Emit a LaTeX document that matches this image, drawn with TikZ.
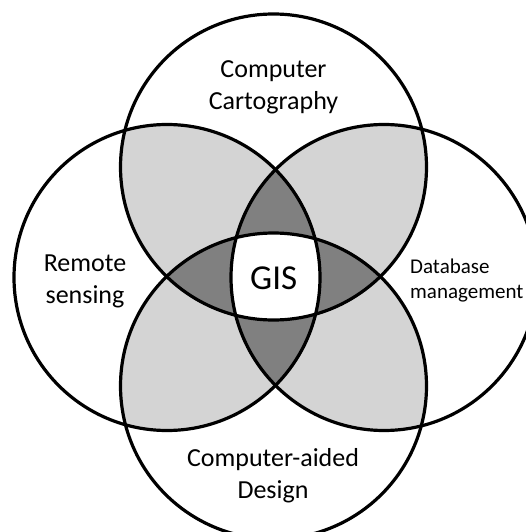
\documentclass[tikz,border=0pt]{standalone}
\usepackage{fontspec}
\setmainfont{Carlito}
\definecolor{pairgray}{RGB}{212,212,212}
\definecolor{triplegray}{RGB}{128,128,128}
\newcommand\ringradius{153pt}
\begin{document}
\begin{tikzpicture}[x=1pt,y=-1pt,
  ring/.style={draw=black, line width=3.2pt},
  areatext/.style={font=\fontsize{26}{32}\selectfont, align=center, inner sep=0pt},
  dbtext/.style={font=\fontsize{21}{25}\selectfont, align=left, inner sep=0pt},
  hubtext/.style={font=\fontsize{35}{42}\selectfont, inner sep=0pt},
]
% page
\fill[white] (0,0) rectangle (526,532);
\useasboundingbox (0,0) rectangle (526,532);

% circle centres
\coordinate (T) at (273.5,167);
\coordinate (B) at (273.5,386);
\coordinate (L) at (167,277.5);
\coordinate (R) at (384,277.5);

% regions shared by two circles
\begin{scope}
  \clip (T) circle[radius=\ringradius];
  \fill[pairgray] (L) circle[radius=\ringradius] (R) circle[radius=\ringradius];
\end{scope}
\begin{scope}
  \clip (B) circle[radius=\ringradius];
  \fill[pairgray] (L) circle[radius=\ringradius] (R) circle[radius=\ringradius];
\end{scope}

% regions shared by three circles
\begin{scope}
  \clip (T) circle[radius=\ringradius];
  \clip (L) circle[radius=\ringradius];
  \fill[triplegray] (R) circle[radius=\ringradius] (B) circle[radius=\ringradius];
\end{scope}
\begin{scope}
  \clip (B) circle[radius=\ringradius];
  \clip (R) circle[radius=\ringradius];
  \fill[triplegray] (L) circle[radius=\ringradius] (T) circle[radius=\ringradius];
\end{scope}

% core shared by all four
\begin{scope}
  \clip (T) circle[radius=\ringradius];
  \clip (B) circle[radius=\ringradius];
  \clip (L) circle[radius=\ringradius];
  \fill[white] (R) circle[radius=\ringradius];
\end{scope}

% outlines
\draw[ring] (T) circle[radius=\ringradius];
\draw[ring] (L) circle[radius=\ringradius];
\draw[ring] (R) circle[radius=\ringradius];
\draw[ring] (B) circle[radius=\ringradius];

% labels
\node[areatext] (cc) at (273.5,87.5) {Computer\\Cartography};
\node[areatext] (rs) at (85,281) {Remote\\sensing};
\node[areatext] (cad) at (273,476) {Computer-aided\\Design};
\node[dbtext, anchor=west] (dbm) at (410,280.5) {Database\\management};
\node[hubtext] (gis) at (273.7,278) {GIS};
\end{tikzpicture}
\end{document}
